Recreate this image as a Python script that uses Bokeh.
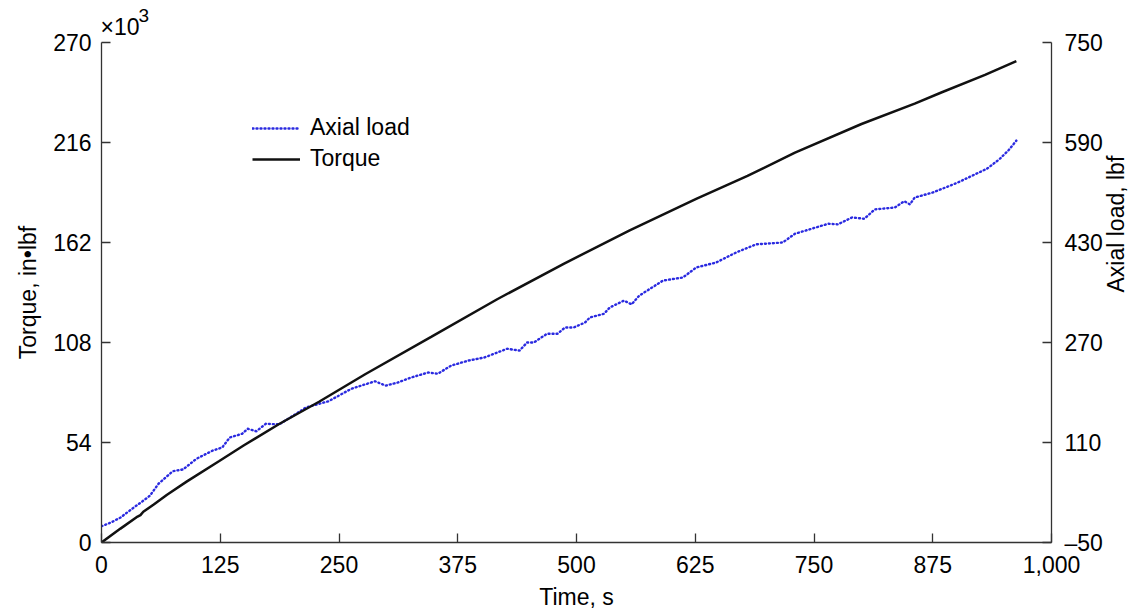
import math
from bokeh.plotting import figure
from bokeh.models import Range1d, LinearAxis, FixedTicker, NumeralTickFormatter, Legend, LegendItem, Title
from bokeh.embed import file_html
from bokeh.resources import INLINE

# Torque (x10^3 in-lbf) vs time (s)
torque_t = [0, 20, 38, 41, 44, 55, 69, 90, 124, 150, 187, 229, 278, 347, 417, 487, 556, 626, 680, 730, 800, 856, 884, 930, 963]
torque_v = [0, 7.5, 14, 14.8, 16.6, 20.5, 25.8, 33, 44, 52.5, 64, 76, 91, 111, 131.5, 150.6, 168.6, 185.5, 198, 210.5, 226, 237, 243, 252.5, 260]

# Axial load (lbf) vs time (s)
axial_t = [0, 10, 20, 34, 45, 51, 60, 75, 86, 100, 117, 127, 135, 148, 154, 163, 173, 187, 205, 215, 222, 239, 263, 288, 299, 312, 326, 344, 354, 368, 386, 403, 427, 440, 448, 455, 469, 480, 488, 497, 509, 514, 529, 535, 550, 558, 566, 591, 612, 626, 647, 668, 689, 717, 730, 765, 775, 790, 803, 814, 835, 845, 851, 856, 875, 900, 932, 945, 955, 963]
axial_v = [-24, -18, -10, 6, 18, 25, 44, 64, 67, 84, 97, 102, 118, 124, 132, 128, 140, 139, 156, 166, 169, 176, 196, 208, 201, 206, 214, 222, 220, 233, 241, 246, 260, 257, 270, 270, 284, 284, 294, 294, 302, 310, 316, 326, 337, 331, 345, 369, 374, 390, 398, 414, 427, 430, 444, 460, 459, 470, 468, 483, 486, 496, 491, 502, 510, 525, 548, 563, 578, 593]

x_ticks = [0, 125, 250, 375, 500, 625, 750, 875, 1000]
left_ticks = [0, 54, 108, 162, 216, 270]
right_ticks = [-50, 110, 270, 430, 590, 750]

FONT = "Liberation Sans"
FS = "23px"
AX_COLOR = "#333333"

p = figure(width=1144, height=615, output_backend="svg", toolbar_location=None,
           x_range=Range1d(0, 1000), y_range=Range1d(0, 270),
           min_border_left=101, min_border_right=85, min_border_top=42, min_border_bottom=73,
           title=None)
p.outline_line_color = None
p.grid.visible = False
p.background_fill_color = "white"
p.border_fill_color = "white"

# multiplier "x10^3" at top of left axis
mult = Title(text="\u00d710", text_font=FONT, text_font_size=FS, text_font_style="normal",
             text_color="black", align="left", offset=-1, standoff=6)
p.add_layout(mult, "above")
expo = Title(text="3", text_font=FONT, text_font_size="19px", text_font_style="normal",
             text_color="black", align="left", offset=37, standoff=-27)
p.add_layout(expo, "above")

p.extra_y_ranges = {"axial": Range1d(-50, 750)}

def style_axis(ax, label):
    ax.axis_label = label
    ax.axis_label_text_font = FONT
    ax.axis_label_text_font_size = FS
    ax.axis_label_text_font_style = "normal"
    ax.axis_label_text_color = "black"
    ax.major_label_text_font = FONT
    ax.major_label_text_font_size = FS
    ax.major_label_text_color = "black"
    ax.axis_line_color = AX_COLOR
    ax.axis_line_width = 1.3
    ax.major_tick_line_color = AX_COLOR
    ax.major_tick_line_width = 1.3
    ax.major_tick_in = 9
    ax.major_tick_out = 0
    ax.minor_tick_line_color = None

xa = p.xaxis[0]
style_axis(xa, "Time, s")
xa.ticker = FixedTicker(ticks=x_ticks)
xa.formatter = NumeralTickFormatter(format="0,0")
xa.major_label_standoff = 13
xa.axis_label_standoff = 8

ya = p.yaxis[0]
style_axis(ya, "Torque, in\u2022lbf")
ya.ticker = FixedTicker(ticks=left_ticks)
ya.major_label_standoff = 10
ya.axis_label_standoff = 9

ra = LinearAxis(y_range_name="axial")
style_axis(ra, "Axial load, lbf")
ra.ticker = FixedTicker(ticks=right_ticks)
ra.formatter = NumeralTickFormatter(format="0")
ra.major_label_standoff = 13
ra.axis_label_standoff = 10
ra.axis_label_orientation = math.pi / 2
ra.major_label_overrides = {-50: "\u201350"}
p.add_layout(ra, "right")

axial = p.line(axial_t, axial_v, y_range_name="axial", line_color="#2a2ae0",
               line_width=2.4, line_dash="1 3", line_cap="round")
torque = p.line(torque_t, torque_v, line_color="#111111", line_width=2.5)

legend = Legend(items=[LegendItem(label="Axial load", renderers=[axial]),
                       LegendItem(label="Torque", renderers=[torque])],
                location=(151, 370))
legend.label_text_font = FONT
legend.label_text_font_size = FS
legend.label_text_color = "black"
legend.glyph_width = 48
legend.glyph_height = 20
legend.label_height = 20
legend.label_standoff = 10
legend.spacing = 4
legend.padding = 0
legend.margin = 0
legend.background_fill_alpha = 0
legend.border_line_alpha = 0
p.add_layout(legend, "center")

open("out.html", "w").write(file_html(p, INLINE))
